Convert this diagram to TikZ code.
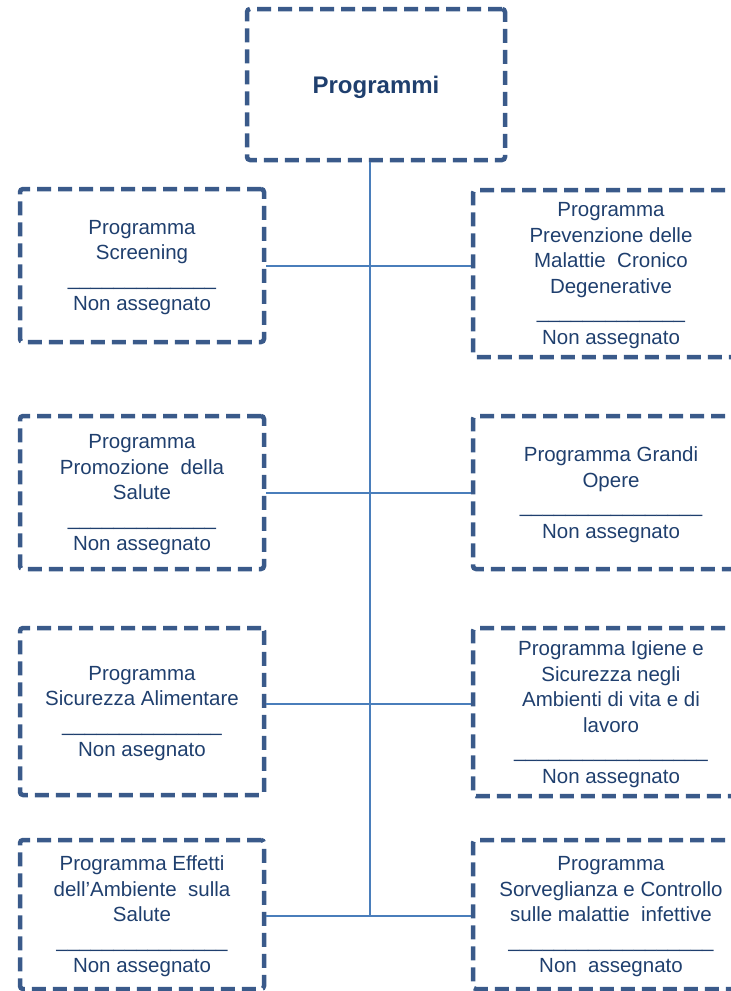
\documentclass[tikz,border=0pt]{standalone}
\usepackage{fontspec}
\setmainfont{Liberation Sans}
\usetikzlibrary{calc}
\definecolor{boxblue}{HTML}{3A5A8A}
\definecolor{textblue}{HTML}{1F3F6E}
\definecolor{lineblue}{HTML}{4A7EBB}
\tikzset{
	prog/.style={draw=boxblue, line width=4.5pt, dash pattern=on 14pt off 7pt,
		rounded corners=3pt, text=textblue, align=center, inner sep=0pt,
		text depth=0pt, font=\fontsize{20.5}{25.5}\selectfont},
	link/.style={draw=lineblue, line width=1.6pt}
}
\begin{document}
\begin{tikzpicture}[x=1pt, y=-1pt]
		%%%%% START %%%%%
		\useasboundingbox (0, 0) rectangle (731, 991);
		\clip (0, 0) rectangle (731, 991);
		
		\node[prog, minimum width=258, minimum height=151, font=\fontsize{24}{28}\selectfont\bfseries] (top) at (376, 84.5) {Programmi};
		
		% left column
		\node[prog, minimum width=244, minimum height=153] (l1) at (142, 265.5)
			{Programma\\Screening\\\_\_\_\_\_\_\_\_\_\_\_\_\_\\Non assegnato};
		\node[prog, minimum width=244, minimum height=153] (l2) at (142, 492.5)
			{Programma\\Promozione\ \ della\\Salute\\\_\_\_\_\_\_\_\_\_\_\_\_\_\\Non assegnato};
		\node[prog, minimum width=244, minimum height=167] (l3) at (142, 711.5)
			{Programma\\Sicurezza Alimentare\\\_\_\_\_\_\_\_\_\_\_\_\_\_\_\\Non asegnato};
		\node[prog, minimum width=244, minimum height=149] (l4) at (142, 914.5)
			{Programma Effetti\\dell’Ambiente\ \ sulla\\Salute\\\_\_\_\_\_\_\_\_\_\_\_\_\_\_\_\\Non assegnato};
		
		% right column
		\node[prog, minimum width=276, minimum height=167] (r1) at (611, 273.5)
			{Programma\\Prevenzione delle\\Malattie\ \ Cronico\\Degenerative\\\_\_\_\_\_\_\_\_\_\_\_\_\_\\Non assegnato};
		\node[prog, minimum width=276, minimum height=153] (r2) at (611, 492.5)
			{Programma Grandi\\Opere\\\_\_\_\_\_\_\_\_\_\_\_\_\_\_\_\_\\Non assegnato};
		\node[prog, minimum width=276, minimum height=168] (r3) at (611, 712)
			{Programma Igiene e\\Sicurezza negli\\Ambienti di vita e di\\lavoro\\\_\_\_\_\_\_\_\_\_\_\_\_\_\_\_\_\_\\Non assegnato};
		\node[prog, minimum width=276, minimum height=149] (r4) at (611, 914.5)
			{Programma\\Sorveglianza e Controllo\\sulle malattie\ \ infettive\\\_\_\_\_\_\_\_\_\_\_\_\_\_\_\_\_\_\_\\Non\ \ assegnato};
		
		% trunk and branches
		\coordinate (j1) at (370, 266);
		\coordinate (j2) at (370, 493);
		\coordinate (j3) at (370, 704);
		\coordinate (j4) at (370, 916);
		\draw[link] (top.south -| j1) -- (j4);
		\draw[link] (l1.east |- j1) -- (r1.west |- j1);
		\draw[link] (l2.east |- j2) -- (r2.west |- j2);
		\draw[link] (l3.east |- j3) -- (r3.west |- j3);
		\draw[link] (l4.east |- j4) -- (r4.west |- j4);
		
		%%%%% END %%%%%
\end{tikzpicture}
\end{document}
